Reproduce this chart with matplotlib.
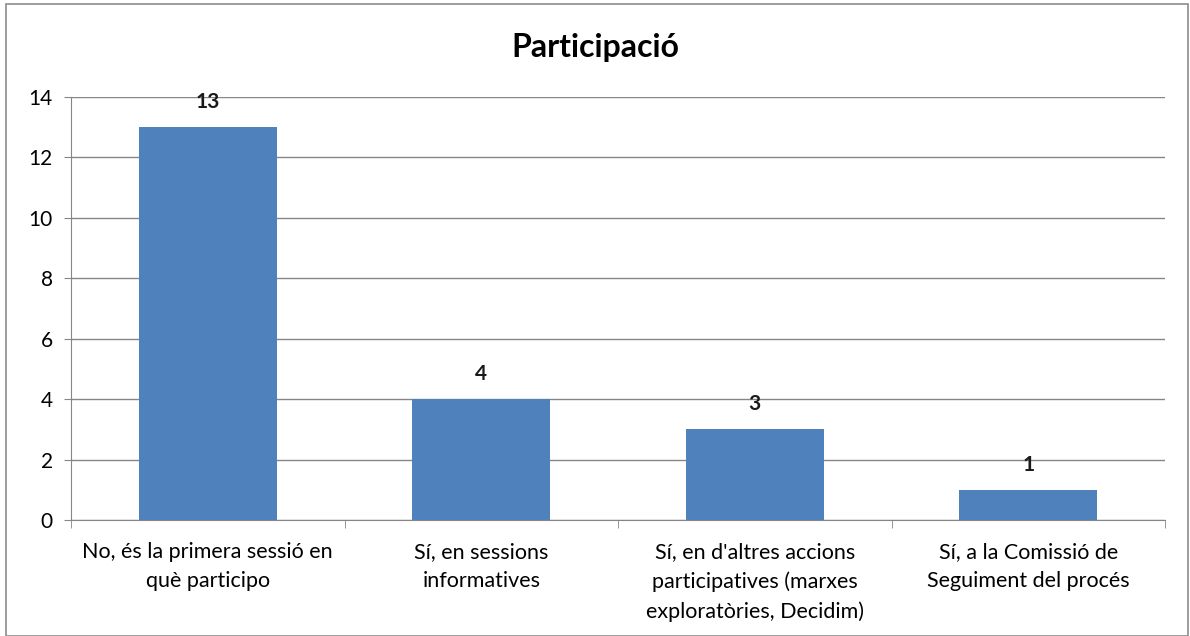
import matplotlib.pyplot as plt
from matplotlib.patches import Rectangle

plt.rcParams['font.family'] = ['Lato', 'DejaVu Sans']

categories = [
    "No, és la primera sessió en\nquè participo",
    "Sí, en sessions\ninformatives",
    "Sí, en d'altres accions\nparticipatives (marxes\nexploratòries, Decidim)",
    "Sí, a la Comissió de\nSeguiment del procés",
]
values = [13, 4, 3, 1]

fig = plt.figure(figsize=(11.9, 6.36), dpi=100)
ax = fig.add_axes([0.0597, 0.1824, 0.9193, 0.6651])

# outer chart border
fig.patches.append(Rectangle((0.005, 0.0), 0.993, 0.993, transform=fig.transFigure,
                             fill=False, edgecolor="#8c8c8c", linewidth=1.2))

x = list(range(len(values)))
bars = ax.bar(x, values, width=0.505, color="#4F81BD", zorder=3)

for xi, v in zip(x, values):
    ax.text(xi, v + 0.5, str(v), ha="center", va="bottom",
            fontsize=15, fontweight="bold", color="#1a1a1a")

ax.set_xlim(-0.5, len(values) - 0.5)
ax.set_ylim(0, 14)
ax.set_yticks(range(0, 15, 2))
ax.tick_params(axis="y", labelsize=15, length=5, color="#868686", pad=8)

ax.set_xticks(x)
ax.set_xticklabels(categories, fontsize=15.5, linespacing=1.57)
ax.tick_params(axis="x", length=0, pad=16)
ax.set_xticks([i + 0.5 for i in range(-1, len(values))], minor=True)
ax.tick_params(axis="x", which="minor", length=6, color="#868686")

ax.grid(axis="y", color="#868686", linewidth=1, zorder=0)
for s in ["top", "right"]:
    ax.spines[s].set_visible(False)
for s in ["left", "bottom"]:
    ax.spines[s].set_color("#868686")

fig.text(0.5, 0.926, "Participació", ha="center", va="center",
         fontsize=23, fontweight="bold")

fig.savefig("out.png", dpi=100)
